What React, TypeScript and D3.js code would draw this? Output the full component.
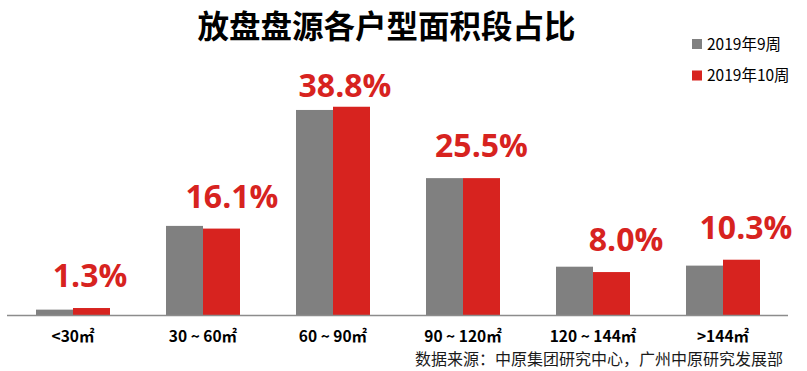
import React from "react";
import * as d3 from "d3";

const categories = ["<30㎡", "30 ~ 60㎡", "60 ~ 90㎡", "90 ~ 120㎡", "120 ~ 144㎡", ">144㎡"];
const seriesNames = ["2019年9周", "2019年10周"];
const week9 = [1.0, 16.6, 38.2, 25.5, 9.0, 9.2];
const week10 = [1.3, 16.1, 38.8, 25.5, 8.0, 10.3];
const valueLabels = ["1.3%", "16.1%", "38.8%", "25.5%", "8.0%", "10.3%"];
const title = "放盘盘源各户型面积段占比";
const source = "数据来源：中原集团研究中心，广州中原研究发展部";

// layout-only label nudges (px)
const labelDx = [-1.5, 10.5, -6.5, 0, 14.5, 4.5];

const W = 807;
const H = 371;
const colors = ["#808080", "#d7231f"];
const CJK = "'Noto Sans CJK SC', 'Noto Sans', sans-serif";

export default function App() {
  const x = d3.scaleBand<string>().domain(categories).range([8, 788]).padding(0);
  const inner = d3
    .scaleBand<string>()
    .domain(["a", "b"])
    .range([0, x.bandwidth()])
    .paddingInner(0)
    .paddingOuter(0.7568);
  const y = d3.scaleLinear().domain([0, 40]).range([315, 100.3]);
  const series = [week9, week10];

  return (
    <svg width={W} height={H} style={{ position: "absolute", left: 0, top: 0, background: "#fff" }}>
      <text x={386.5} y={38} textAnchor="middle" fontFamily={CJK} fontWeight={700} fontSize={31.5} fill="#000">
        {title}
      </text>
      {seriesNames.map((n, i) => (
        <g key={n}>
          <rect x={692} y={39 + i * 31.5} width={10} height={10} fill={colors[i]} />
          <text x={707} y={49.5 + i * 31.5} fontFamily={CJK} fontSize={15.5} fill="#000">
            {n}
          </text>
        </g>
      ))}
      {categories.map((c, ci) => (
        <g key={c} transform={`translate(${x(c)},0)`}>
          {series.map((s, si) => (
            <rect
              key={si}
              x={inner(si === 0 ? "a" : "b")}
              y={y(s[ci])}
              width={inner.bandwidth()}
              height={y(0) - y(s[ci])}
              fill={colors[si]}
            />
          ))}
        </g>
      ))}
      <line x1={7} x2={788} y1={315.5} y2={315.5} stroke="#8c8c8c" strokeWidth={1.5} />
      {categories.map((c, ci) => {
        const cx = (x(c) as number) + (inner("b") as number) + inner.bandwidth() / 2 + labelDx[ci];
        const top = y(week10[ci]);
        const by = Math.max(97, top - 21);
        return (
          <text
            key={"v" + c}
            x={cx}
            y={by}
            textAnchor="middle"
            fontFamily="'Open Sans', 'Noto Sans', sans-serif"
            fontWeight={700}
            fontSize={32}
            fill={colors[1]}
          >
            {valueLabels[ci]}
          </text>
        );
      })}
      {categories.map((c) => (
        <text
          key={"c" + c}
          x={(x(c) as number) + x.bandwidth() / 2}
          y={342}
          textAnchor="middle"
          fontFamily={CJK}
          fontWeight={700}
          fontSize={15.5}
          fill="#000"
        >
          {c}
        </text>
      ))}
      <text x={783} y={365} textAnchor="end" fontFamily={CJK} fontSize={16} fill="#1a1a1a">
        {source}
      </text>
    </svg>
  );
}
